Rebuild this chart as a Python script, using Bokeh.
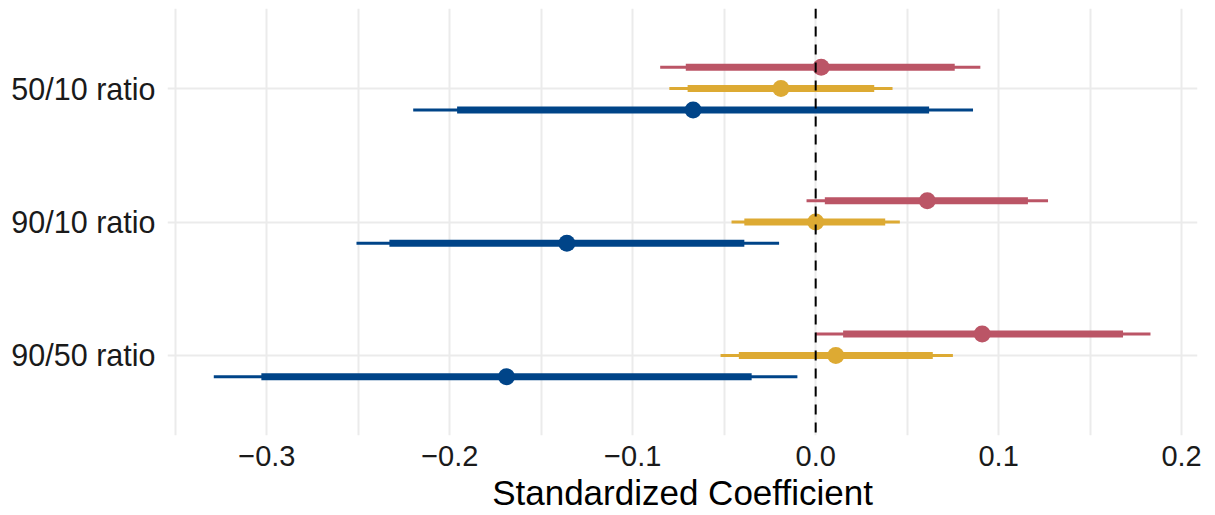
from bokeh.plotting import figure
from bokeh.models import (ColumnDataSource, Range1d, FixedTicker, Span,
                          CustomJSTickFormatter)
from bokeh.transform import dodge
from bokeh.embed import file_html
from bokeh.resources import INLINE

# Inequality measures (rows, top to bottom: 50/10, 90/10, 90/50)
ratios = ["50/10 ratio", "90/10 ratio", "90/50 ratio"]
ratio_pos = [3, 2, 1]

# Estimates with 90% (inner) and 95% (outer) intervals, one list per model
red_est = [0.003, 0.061, 0.091]
red_lo90 = [-0.071, 0.005, 0.015]
red_hi90 = [0.076, 0.116, 0.168]
red_lo95 = [-0.085, -0.005, 0.000]
red_hi95 = [0.090, 0.127, 0.183]

yellow_est = [-0.019, 0.000, 0.011]
yellow_lo90 = [-0.070, -0.039, -0.042]
yellow_hi90 = [0.032, 0.038, 0.064]
yellow_lo95 = [-0.080, -0.046, -0.052]
yellow_hi95 = [0.042, 0.046, 0.075]

blue_est = [-0.067, -0.136, -0.169]
blue_lo90 = [-0.196, -0.233, -0.303]
blue_hi90 = [0.062, -0.039, -0.035]
blue_lo95 = [-0.220, -0.251, -0.329]
blue_hi95 = [0.086, -0.020, -0.010]

x_ticks = [-0.3, -0.2, -0.1, 0.0, 0.1, 0.2]
grid_ticks = [-0.35, -0.3, -0.25, -0.2, -0.15, -0.1, -0.05, 0.0,
              0.05, 0.1, 0.15, 0.2]

FONT = "Liberation Sans"

p = figure(width=1215, height=515, output_backend="svg", toolbar_location=None,
           x_range=Range1d(-0.3543, 0.2087), y_range=Range1d(0.4, 3.6),
           min_border_left=167, min_border_right=18, min_border_top=8,
           min_border_bottom=80)
p.outline_line_color = None
p.background_fill_color = "white"
p.border_fill_color = "white"

# grid
p.xgrid.ticker = FixedTicker(ticks=grid_ticks)
p.xgrid.grid_line_color = "#EBEBEB"
p.xgrid.grid_line_width = 2
p.ygrid.ticker = FixedTicker(ticks=ratio_pos)
p.ygrid.grid_line_color = "#EBEBEB"
p.ygrid.grid_line_width = 2

# axes
p.xaxis.ticker = FixedTicker(ticks=x_ticks)
p.xaxis.formatter = CustomJSTickFormatter(
    code="return (tick < -1e-9 ? '\u2212' : '') + Math.abs(tick).toFixed(1);")
p.xaxis.axis_label = "Standardized Coefficient"
p.yaxis.ticker = FixedTicker(ticks=ratio_pos)
p.yaxis.major_label_overrides = {pos: lab for pos, lab in zip(ratio_pos, ratios)}
for ax in (p.xaxis[0], p.yaxis[0]):
    ax.axis_line_color = None
    ax.major_tick_line_color = None
    ax.minor_tick_line_color = None
    ax.major_label_text_font = FONT
    ax.major_label_text_color = "#1A1A1A"
p.xaxis.major_label_text_font_size = "29px"
p.yaxis.major_label_text_font_size = "30.5px"
p.xaxis.major_label_standoff = 4
p.yaxis.major_label_standoff = 6
p.xaxis.axis_label_text_font = FONT
p.xaxis.axis_label_text_font_size = "35px"
p.xaxis.axis_label_text_font_style = "normal"
p.xaxis.axis_label_text_color = "black"
p.xaxis.axis_label_standoff = 4

# zero reference line
p.add_layout(Span(location=0, dimension="height", line_color="black",
                  line_width=2, line_dash="10 8"))

models = [
    ("#BB5566", 0.16, red_est, red_lo90, red_hi90, red_lo95, red_hi95),
    ("#DDAA33", 0.0, yellow_est, yellow_lo90, yellow_hi90, yellow_lo95, yellow_hi95),
    ("#004488", -0.16, blue_est, blue_lo90, blue_hi90, blue_lo95, blue_hi95),
]

for color, off, est, lo90, hi90, lo95, hi95 in models:
    src = ColumnDataSource(dict(pos=ratio_pos, est=est, lo90=lo90, hi90=hi90,
                                lo95=lo95, hi95=hi95))
    yy = dodge("pos", off)
    p.segment(x0="lo95", x1="hi95", y0=yy, y1=yy, source=src,
              line_color=color, line_width=3)
    p.segment(x0="lo90", x1="hi90", y0=yy, y1=yy, source=src,
              line_color=color, line_width=7)
    p.scatter(x="est", y=yy, source=src, size=17, fill_color=color,
              line_color=None)

open("out.html", "w").write(file_html(p, INLINE))
